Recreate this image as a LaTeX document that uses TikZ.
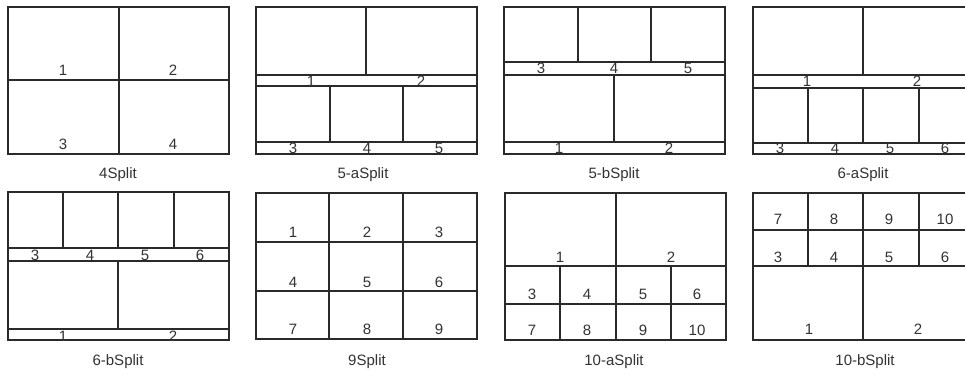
\documentclass[tikz,border=0pt]{standalone}
\usepackage{fontspec}
\setmainfont{Liberation Sans}
\definecolor{lc}{HTML}{2A2A2A}
\definecolor{tc}{HTML}{333333}
\begin{document}
\begin{tikzpicture}[x=1pt,y=-1pt]
\tikzset{
  ln/.style={draw=lc,line width=1.2pt},
  num/.style={font=\fontsize{15}{15}\selectfont, text=tc, inner sep=0pt, anchor=center},
  capt/.style={font=\fontsize{15}{15}\selectfont, text=tc, inner sep=0pt, anchor=base}
}
\useasboundingbox (0,0) rectangle (965,371);
\clip (0,0) rectangle (965,371);
\fill[white] (0,0) rectangle (965,371);

% ---- 4Split
\draw[ln] (8,7) rectangle (229,154);
\draw[ln] (119,7) -- (119,154) (8,80) -- (229,80);
\node[num] (a1) at (63,70) {1};
\node[num] (a2) at (173,70) {2};
\node[num] (a3) at (63,144) {3};
\node[num] (a4) at (173,144) {4};
\node[capt] (ca) at (118,178.5) {4Split};

% ---- 5-aSplit
\draw[ln] (256,7) rectangle (477,154);
\draw[ln] (366,7) -- (366,75) (256,75) -- (477,75) (256,86) -- (477,86)
  (330,86) -- (330,142) (403,86) -- (403,142) (256,142) -- (477,142);
\node[num] (b1) at (311,81) {1};
\node[num] (b2) at (421,81) {2};
\node[num] (b3) at (293,148) {3};
\node[num] (b4) at (367,148) {4};
\node[num] (b5) at (439,148) {5};
\node[capt] (cb) at (363,178.5) {5-aSplit};

% ---- 5-bSplit
\draw[ln] (504,7) rectangle (725,154);
\draw[ln] (578,7) -- (578,62) (651,7) -- (651,62) (504,62) -- (725,62) (504,75) -- (725,75)
  (614,75) -- (614,142) (504,142) -- (725,142);
\node[num] (c3) at (541,68) {3};
\node[num] (c4) at (614,68) {4};
\node[num] (c5) at (688,68) {5};
\node[num] (c1) at (559,148) {1};
\node[num] (c2) at (669,148) {2};
\node[capt] (cc) at (614,178.5) {5-bSplit};

% ---- 6-aSplit
\draw[ln] (753,7) rectangle (974,154);
\draw[ln] (863,7) -- (863,75) (753,75) -- (974,75) (753,88) -- (974,88)
  (808,88) -- (808,143) (863,88) -- (863,143) (919,88) -- (919,143) (753,143) -- (974,143);
\node[num] (d1) at (807,81) {1};
\node[num] (d2) at (917,81) {2};
\node[num] (d3) at (780,148) {3};
\node[num] (d4) at (835,148) {4};
\node[num] (d5) at (890,148) {5};
\node[num] (d6) at (945,148) {6};
\node[capt] (cd) at (863,178.5) {6-aSplit};

% ---- 6-bSplit
\draw[ln] (8,192) rectangle (229,340);
\draw[ln] (63,192) -- (63,248) (118,192) -- (118,248) (174,192) -- (174,248)
  (8,248) -- (229,248) (8,261) -- (229,261) (118,261) -- (118,329) (8,329) -- (229,329);
\node[num] (e3) at (35,255) {3};
\node[num] (e4) at (90,255) {4};
\node[num] (e5) at (145,255) {5};
\node[num] (e6) at (200,255) {6};
\node[num] (e1) at (63,336) {1};
\node[num] (e2) at (173,336) {2};
\node[capt] (ce) at (118,365) {6-bSplit};

% ---- 9Split
\draw[ln] (256,193) rectangle (477,339);
\draw[ln] (329,193) -- (329,339) (403,193) -- (403,339) (256,242) -- (477,242) (256,291) -- (477,291);
\node[num] (f1) at (293,232) {1};
\node[num] (f2) at (367,232) {2};
\node[num] (f3) at (439,232) {3};
\node[num] (f4) at (293,282) {4};
\node[num] (f5) at (367,282) {5};
\node[num] (f6) at (439,282) {6};
\node[num] (f7) at (293,329) {7};
\node[num] (f8) at (367,329) {8};
\node[num] (f9) at (439,329) {9};
\node[capt] (cf) at (367,365) {9Split};

% ---- 10-aSplit
\draw[ln] (505,193) rectangle (726,340);
\draw[ln] (616,193) -- (616,340) (505,266) -- (726,266) (505,304) -- (726,304)
  (560,266) -- (560,340) (671,266) -- (671,340);
\node[num] (g1) at (560,257) {1};
\node[num] (g2) at (671,257) {2};
\node[num] (g3) at (532,294) {3};
\node[num] (g4) at (587,294) {4};
\node[num] (g5) at (643,294) {5};
\node[num] (g6) at (697,294) {6};
\node[num] (g7) at (532,330) {7};
\node[num] (g8) at (587,330) {8};
\node[num] (g9) at (643,330) {9};
\node[num] (g10) at (697,330) {10};
\node[capt] (cg) at (614,365) {10-aSplit};

% ---- 10-bSplit
\draw[ln] (753,193) rectangle (974,340);
\draw[ln] (863,193) -- (863,340) (753,230) -- (974,230) (753,266) -- (974,266)
  (808,193) -- (808,266) (919,193) -- (919,266);
\node[num] (h7) at (778,219) {7};
\node[num] (h8) at (834,219) {8};
\node[num] (h9) at (889,219) {9};
\node[num] (h10) at (945,219) {10};
\node[num] (h3) at (778,257) {3};
\node[num] (h4) at (834,257) {4};
\node[num] (h5) at (889,257) {5};
\node[num] (h6) at (945,257) {6};
\node[num] (h1) at (809,329) {1};
\node[num] (h2) at (918,329) {2};
\node[capt] (ch) at (865,365) {10-bSplit};
\end{tikzpicture}
\end{document}
